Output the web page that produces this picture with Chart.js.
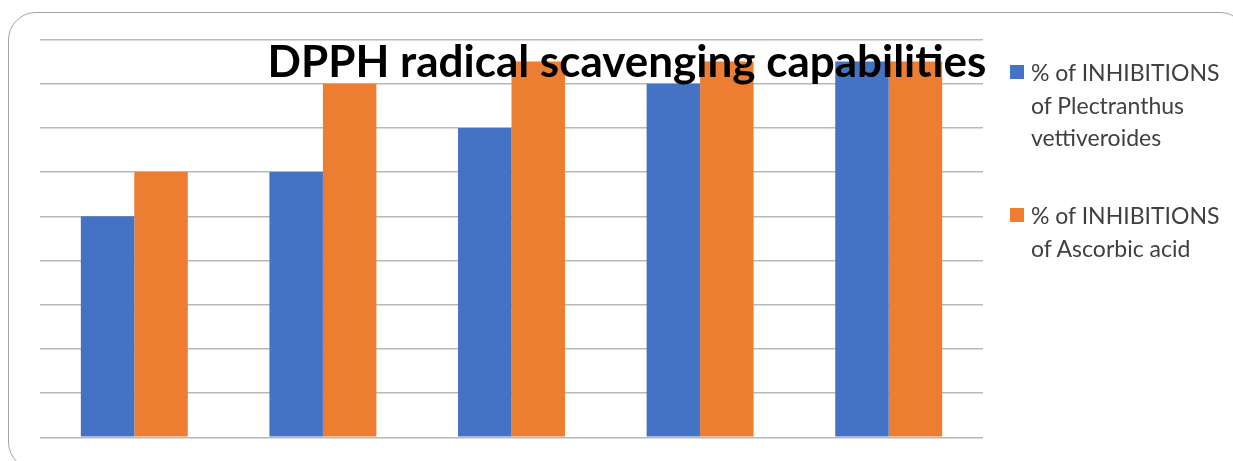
<!DOCTYPE html>
<html>
<head>
<meta charset="utf-8">
<script src="https://cdn.jsdelivr.net/npm/chart.js@4/dist/chart.umd.min.js"></script>
<style>
  html, body { margin: 0; padding: 0; background: #fff; overflow: hidden; }
  #wrap { position: relative; width: 1233px; height: 461px; overflow: hidden; }
  #frame {
    position: absolute; left: 8px; top: 12px; width: 1240px; height: 458px;
    border: 1.5px solid #a4a4a4; border-radius: 28px; box-sizing: border-box;
  }
  #chart { position: absolute; left: 0; top: 0; }
  #legend { position: absolute; left: 1010px; top: 0; font-family: Lato, "Open Sans", sans-serif; }
  .item { position: absolute; left: 0; width: 222px; }
  .swatch { position: absolute; left: 0; width: 14px; height: 14px; }
  .txt { position: absolute; left: 21px; width: 200px; font-size: 23px; line-height: 32.5px; color: #404040; }
</style>
</head>
<body>
<div id="wrap">
  <div id="frame"></div>
  <canvas id="chart" width="1233" height="461"></canvas>
  <div id="legend"></div>
</div>
<script>
// Chart content
const chartTitle = 'DPPH radical scavenging capabilities';
const categories = ['C1', 'C2', 'C3', 'C4', 'C5'];
const seriesNames = [
  '% of INHIBITIONS of Plectranthus vettiveroides',
  '% of INHIBITIONS of Ascorbic acid'
];
const plectranthusValues = [50, 60, 70, 80, 85];
const ascorbicValues = [60, 80, 85, 85, 85];
const seriesColors = ['#4472C4', '#ED7D31'];
const yTicks = [0, 10, 20, 30, 40, 50, 60, 70, 80, 90];

// Title drawn over the plot, on top of the bars
const overlayTitle = {
  id: 'overlayTitle',
  afterDatasetsDraw(chart) {
    const ctx = chart.ctx;
    ctx.save();
    ctx.font = 'bold 44px Lato, "Open Sans", sans-serif';
    ctx.fillStyle = '#000';
    ctx.textAlign = 'center';
    ctx.textBaseline = 'alphabetic';
    ctx.fillText(chartTitle, 627, 77);
    ctx.restore();
  }
};

// Legend with wrapped labels, built from the datasets
const htmlLegend = {
  id: 'htmlLegend',
  afterUpdate(chart) {
    const box = document.getElementById('legend');
    box.innerHTML = '';
    const tops = [56, 199];
    chart.data.datasets.forEach((ds, i) => {
      const item = document.createElement('div');
      item.className = 'item';
      item.style.top = tops[i] + 'px';
      const sw = document.createElement('div');
      sw.className = 'swatch';
      sw.style.background = ds.backgroundColor;
      sw.style.top = '9px';
      const t = document.createElement('div');
      t.className = 'txt';
      t.textContent = ds.label;
      item.appendChild(sw);
      item.appendChild(t);
      box.appendChild(item);
    });
  }
};

new Chart(document.getElementById('chart'), {
  type: 'bar',
  data: {
    labels: categories,
    datasets: [
      { label: seriesNames[0], data: plectranthusValues, backgroundColor: seriesColors[0] },
      { label: seriesNames[1], data: ascorbicValues, backgroundColor: seriesColors[1] }
    ]
  },
  options: {
    responsive: false,
    animation: false,
    layout: { padding: { left: 40, right: 250, top: 39.5, bottom: 23.7 } },
    datasets: { bar: { categoryPercentage: 0.567, barPercentage: 1.0, borderWidth: 0 } },
    plugins: {
      legend: { display: false },
      title: { display: false },
      tooltip: { enabled: false }
    },
    scales: {
      x: { display: false, grid: { display: false } },
      y: {
        min: yTicks[0],
        max: yTicks[yTicks.length - 1],
        afterBuildTicks(scale) { scale.ticks = yTicks.map(v => ({ value: v })); },
        afterFit(scale) { scale.width = 0; },
        ticks: { display: false },
        border: { display: false },
        grid: { color: '#b8b8b8', lineWidth: 1.4, drawTicks: false }
      }
    }
  },
  plugins: [overlayTitle, htmlLegend]
});
</script>
</body>
</html>
